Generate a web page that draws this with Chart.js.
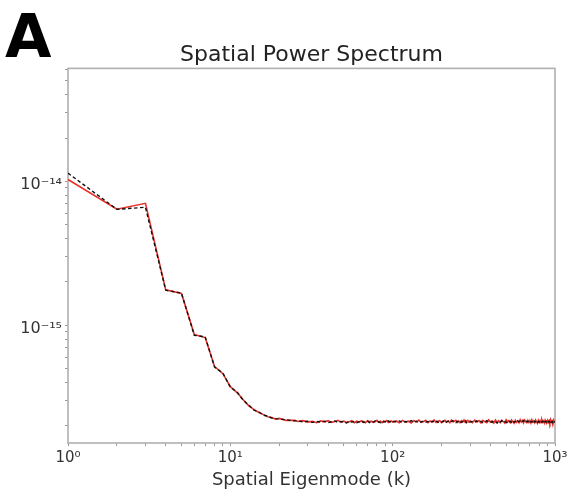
<!DOCTYPE html>
<html><head><meta charset="utf-8">
<script src="https://cdn.jsdelivr.net/npm/chart.js@4/dist/chart.umd.min.js"></script>
<style>html,body{margin:0;padding:0;background:#fff}#wrap{width:574px;height:495px}</style>
</head><body><div id="wrap"><canvas id="c" width="574" height="495"></canvas></div>
<script>
// power values are stored in units of 1e-17
const UNIT = 1e-17;
const kValues = [1,2,3,4,5,6,7,8,9,10,11,12,13,14,15,16,17,18,19,20,22,25,
  26,28,30,32,34,36,38,40,42,44,46,48,50,52,54,56,58,60,62,64,66,68,70,72,74,76,78,80,82,84,86,88,90,92,94,96,98,100,
  105,110,115,120,125,130,135,140,145,150,155,160,165,170,175,180,185,190,195,200,205,210,215,220,225,230,235,240,245,250,255,260,265,270,275,280,285,290,295,300,
  310,320,330,340,350,360,370,380,390,400,410,420,430,440,450,460,470,480,490,500,510,520,530,540,550,560,570,580,590,600,610,620,630,640,650,660,670,680,690,700,710,720,730,740,750,760,770,780,790,800,810,820,830,840,850,860,870,880,890,900,910,920,930,940,950,960,970,980,990,1000];
const powerBlack = [1140,639,660,175,167,85,83,51.1,46.4,37.1,34.3,30.1,27.8,25.7,24.9,23.7,23.3,22.6,22.4,22.3,22.0,21.6,
  21.6,21.3,21.5,21.1,21.4,21.2,21.5,21.0,21.3,21.6,21.1,21.4,21.2,20.9,21.5,21.2,21.4,21.0,21.3,21.6,21.1,21.3,21.5,21.0,21.4,21.2,21.6,21.1,21.3,21.0,21.5,21.2,21.4,21.1,21.6,21.3,21.0,21.4,
  21.3,21.6,21.0,21.4,21.2,21.7,21.1,21.5,20.9,21.3,21.6,21.2,21.4,21.0,21.5,21.3,21.7,21.1,21.4,21.2,21.6,20.9,21.3,21.5,21.1,21.4,21.7,21.2,21.0,21.5,21.3,21.6,21.1,21.4,21.2,21.7,21.0,21.3,21.5,21.2,
  21.4,21.1,21.6,21.2,21.5,21.0,21.3,21.7,21.2,21.4,21.1,21.6,21.3,20.9,21.5,21.2,21.7,21.1,21.4,21.0,21.6,21.3,21.5,21.1,21.7,21.2,21.4,21.0,21.6,21.3,21.5,21.1,21.4,21.8,21.2,21.0,21.5,21.3,21.7,21.1,21.4,21.2,21.6,21.0,21.5,21.3,21.7,21.1,21.4,21.2,21.6,21.0,21.3,21.5,21.1,21.7,21.2,21.4,21.0,21.6,21.3,21.5,21.1,21.7,21.2,21.4,21.0,21.6,21.3,21.5];
const powerRed = [1030,640,703,176,166,86,82,51.5,46.0,37.4,34.0,30.3,27.5,25.9,24.7,23.9,23.1,22.8,22.2,22.5,21.8,21.8,
  21.4,21.7,21.2,21.5,21.0,21.6,21.3,21.7,21.1,21.4,21.8,21.2,21.5,21.1,21.3,21.7,21.0,21.5,21.2,21.6,21.4,21.0,21.7,21.3,21.5,21.1,21.3,21.8,21.2,21.5,21.0,21.6,21.3,21.7,21.1,21.4,21.6,21.2,
  21.6,21.0,21.8,21.2,21.5,20.9,21.7,21.3,21.9,21.1,21.4,21.8,21.0,21.6,21.2,21.9,21.1,21.5,21.7,21.0,21.4,21.8,21.2,21.6,21.0,21.9,21.3,21.5,21.8,21.1,21.6,21.0,21.7,21.3,21.9,21.1,21.5,21.8,21.2,21.6,
  21.0,21.9,21.2,21.7,20.9,21.8,21.3,21.0,22.0,21.2,21.6,20.9,21.9,21.1,21.7,21.0,21.8,21.4,20.9,22.0,21.2,21.7,21.0,21.9,21.3,20.8,21.8,21.1,21.6,21.0,22.0,21.2,21.7,20.9,21.9,21.3,21.0,21.8,21.1,21.7,20.9,22.0,21.2,21.6,21.0,21.9,21.3,20.8,21.8,21.1,21.7,21.0,22.0,21.2,21.6,20.9,21.9,21.3,21.0,21.8,21.1,21.7,20.9,22.0,21.2,21.6,21.0,21.9,21.4,21.1];

const xTickValues = [1,10,100,1000];
const xTickLabels = ['10⁰','10¹','10²','10³'];
const xMinorTicks = [2,3,4,5,6,7,8,9,20,30,40,50,60,70,80,90,200,300,400,500,600,700,800,900];
const yTickValues = [1e-15,1e-14];
const yTickLabels = ['10⁻¹⁵','10⁻¹⁴'];
const yMinorTicks = [2e-16,3e-16,4e-16,5e-16,6e-16,7e-16,8e-16,9e-16,2e-15,3e-15,4e-15,5e-15,6e-15,7e-15,8e-15,9e-15,2e-14,3e-14,4e-14,5e-14,6e-14];

const xMin = 1, xMax = 1000;
const yMin = 1.517e-16, yMax = 6.095e-14;

const FONT = 'DejaVu Sans';

const framePlugin = {
  id: 'frame',
  beforeDatasetsDraw(chart) {
    const {ctx, chartArea: a} = chart;
    ctx.save();
    ctx.strokeStyle = '#b0b0b0';
    ctx.lineWidth = 1.6;
    ctx.strokeRect(a.left, a.top, a.right - a.left, a.bottom - a.top);
    ctx.restore();
  },
  afterDraw(chart) {
    const ctx = chart.ctx;
    ctx.save();
    ctx.fillStyle = '#000';
    ctx.font = 'bold 60px "' + FONT + '"';
    ctx.textBaseline = 'alphabetic';
    ctx.textAlign = 'left';
    ctx.fillText('A', 5, 57);
    ctx.restore();
  }
};

const toPts = arr => kValues.map((k, i) => ({x: k, y: arr[i] * UNIT}));

new Chart(document.getElementById('c'), {
  type: 'line',
  data: {
    datasets: [
      {label: 'black', data: toPts(powerBlack), borderColor: '#111', borderWidth: 1.4, borderDash: [3.5, 2.5], pointRadius: 0, fill: false, tension: 0},
      {label: 'red', data: toPts(powerRed), borderColor: '#e8302a', borderWidth: 1.6, pointRadius: 0, fill: false, tension: 0}
    ]
  },
  options: {
    responsive: false,
    animation: false,
    devicePixelRatio: 1,
    layout: {padding: {left: 0, right: 19, top: 0, bottom: 0}},
    plugins: {
      legend: {display: false},
      tooltip: {enabled: false},
      title: {display: true, fullSize: false, text: 'Spatial Power Spectrum', color: '#222',
        font: {family: FONT, size: 22, weight: 'normal'}, padding: {top: 42, bottom: 0}}
    },
    scales: {
      x: {
        type: 'logarithmic', min: xMin, max: xMax, bounds: 'data',
        afterBuildTicks: s => { s.ticks = [...xTickValues, ...xMinorTicks].sort((a, b) => a - b).map(v => ({value: v})); },
        afterFit: s => { s.height = 52; },
        ticks: {
          autoSkip: false, maxRotation: 0, color: '#333', padding: 3,
          font: {family: FONT, size: 15},
          callback: v => { const i = xTickValues.indexOf(v); return i >= 0 ? xTickLabels[i] : ''; }
        },
        grid: {display: true, drawOnChartArea: false, drawTicks: true, tickLength: 3, color: '#999'},
        border: {display: false},
        title: {display: true, text: 'Spatial Eigenmode (k)', color: '#333', font: {family: FONT, size: 18}, padding: {top: 0, bottom: 4}}
      },
      y: {
        type: 'logarithmic', min: yMin, max: yMax, bounds: 'data',
        afterBuildTicks: s => { s.ticks = [...yTickValues, ...yMinorTicks].sort((a, b) => a - b).map(v => ({value: v})); },
        afterFit: s => { s.width = 68; },
        ticks: {
          autoSkip: false, color: '#333', padding: 3, labelOffset: 4,
          font: {family: FONT, size: 16},
          callback: v => { const i = yTickValues.indexOf(v); return i >= 0 ? yTickLabels[i] : ''; }
        },
        grid: {display: true, drawOnChartArea: false, drawTicks: true, tickLength: 3, color: '#999'},
        border: {display: false}
      }
    }
  },
  plugins: [framePlugin]
});
</script>
</body></html>
